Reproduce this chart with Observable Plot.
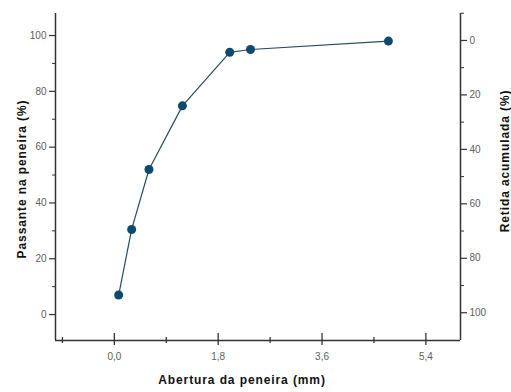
<!DOCTYPE html>
<html>
<head>
<meta charset="utf-8">
<script src="https://cdn.jsdelivr.net/npm/d3@7"></script>
<script src="https://cdn.jsdelivr.net/npm/@observablehq/plot@0.6"></script>
<style>
  html, body { margin: 0; padding: 0; background: #fff; }
  #chart svg { display: block; }
</style>
</head>
<body>
<div id="chart"></div>
<script>
// Data
const abertura = [0.075, 0.3, 0.6, 1.18, 2.0, 2.36, 4.75];   // mm
const passante = [7, 30.5, 52, 74.8, 94, 95, 98];            // %

// Axes
const xDomain = [-1.02, 6.0];
const xTicks = [0.0, 1.8, 3.6, 5.4];
const xMinor = [-0.9, 0.9, 2.7, 4.5];
const yDomain = [-9.3, 107.9];
const yTicks = [0, 20, 40, 60, 80, 100];
const yMinor = [10, 30, 50, 70, 90];
const rDomain = [110.2, -9.9];            // Retida acumulada, bottom -> top
const rTicks = [0, 20, 40, 60, 80, 100];
const rMinor = [-10, 10, 30, 50, 70, 90];

const toLeft = v => yDomain[0] + (v - rDomain[0]) / (rDomain[1] - rDomain[0]) * (yDomain[1] - yDomain[0]);
const fromLeft = d => rDomain[0] + (d - yDomain[0]) / (yDomain[1] - yDomain[0]) * (rDomain[1] - rDomain[0]);

const data = abertura.map((a, i) => ({a, p: passante[i]}));
const fmtX = d => d.toFixed(1).replace(".", ",");

const axisColor = "#333";
const tickText = "#606060";
const font = "Liberation Sans, Arial, sans-serif";

const chart = Plot.plot({
  width: 511,
  height: 392,
  marginLeft: 55,
  marginRight: 51,
  marginTop: 13,
  marginBottom: 52,
  style: {fontFamily: font, background: "#fff"},
  x: {domain: xDomain},
  y: {domain: yDomain},
  marks: [
    // frame lines (left, right, bottom)
    Plot.ruleX([xDomain[0]], {stroke: axisColor, strokeWidth: 1.5}),
    Plot.ruleX([xDomain[1]], {stroke: axisColor, strokeWidth: 1.5}),
    Plot.ruleY([yDomain[0]], {stroke: axisColor, strokeWidth: 1.5}),
    // left axis
    Plot.axisY({anchor: "left", ticks: yTicks, tickSize: 6, tickPadding: 3, fontSize: 10,
      color: tickText, stroke: axisColor, strokeWidth: 1.2, label: null}),
    Plot.axisY({anchor: "left", ticks: yMinor, tickSize: 3, tickFormat: () => "", stroke: axisColor, label: null}),
    // right axis (Retida acumulada)
    Plot.axisY({anchor: "right", ticks: rTicks.map(toLeft), tickSize: 6, tickPadding: 3, fontSize: 10,
      tickFormat: d => String(Math.round(fromLeft(d))), color: tickText, stroke: axisColor, strokeWidth: 1.2, label: null}),
    Plot.axisY({anchor: "right", ticks: rMinor.map(toLeft), tickSize: 3, tickFormat: () => "", stroke: axisColor, label: null}),
    // bottom axis: crossing ticks
    Plot.axisX({anchor: "bottom", ticks: xTicks, tickSize: 12, dy: -7, tickFormat: () => "",
      stroke: axisColor, strokeWidth: 1.3, label: null}),
    Plot.axisX({anchor: "bottom", ticks: xMinor, tickSize: 6, dy: -3, tickFormat: () => "",
      stroke: axisColor, strokeWidth: 1.3, label: null}),
    Plot.axisX({anchor: "bottom", ticks: xTicks, tickSize: 0, tickPadding: 12, fontSize: 10,
      tickFormat: fmtX, color: tickText, label: null}),
    // axis titles
    Plot.text(["Abertura da peneira (mm)"], {frameAnchor: "bottom", textAnchor: "middle", dx: -16, dy: 43,
      fontSize: 12, fontWeight: "bold", fill: "#111"}),
    Plot.text(["Passante na peneira (%)"], {frameAnchor: "left", textAnchor: "middle", rotate: -90, dx: -33, dy: 2,
      fontSize: 12, fontWeight: "bold", fill: "#111"}),
    Plot.text(["Retida acumulada (%)"], {frameAnchor: "right", textAnchor: "middle", rotate: -90, dx: 45, dy: -16,
      fontSize: 12, fontWeight: "bold", fill: "#111"}),
    // data
    Plot.line(data, {x: "a", y: "p", stroke: "#2a4a5e", strokeWidth: 1.2}),
    Plot.dot(data, {x: "a", y: "p", r: 4.5, fill: "#0e4a70", stroke: "none"})
  ]
});
// widen the bold titles a little, as in the reference
d3.select(chart).selectAll("g[aria-label='text'] text").attr("letter-spacing", "0.9px");
document.getElementById("chart").appendChild(chart);
</script>
</body>
</html>
